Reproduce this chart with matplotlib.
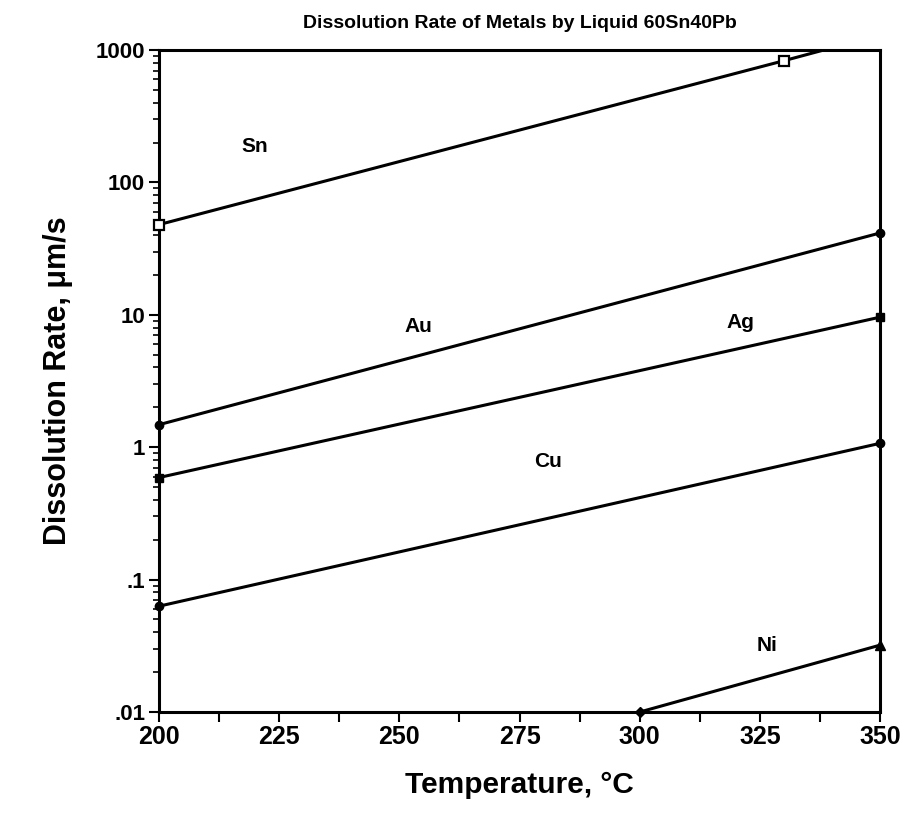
import numpy as np
import matplotlib.pyplot as plt
from matplotlib.ticker import FixedLocator, LogLocator, NullFormatter

plt.rcParams['font.family'] = ['Liberation Sans', 'DejaVu Sans']

# Data (temperature in C, rate in um/s)
sn_temp = [200, 330, 350]
sn_rate = [48, 830, 1300]
au_temp = [200, 350]
au_rate = [1.48, 41.5]
ag_temp = [200, 350]
ag_rate = [0.59, 9.6]
cu_temp = [200, 350]
cu_rate = [0.063, 1.07]
ni_temp = [300, 350]
ni_rate = [0.01, 0.032]

x_ticks = [200, 225, 250, 275, 300, 325, 350]
y_ticks = [0.01, 0.1, 1, 10, 100, 1000]
y_labels = ['.01', '.1', '1', '10', '100', '1000']

# label text, x, y
labels = [('Sn', 220, 188), ('Au', 254, 8.1), ('Ag', 321, 8.8),
          ('Cu', 281, 0.78), ('Ni', 326.5, 0.032)]

fig = plt.figure(figsize=(9.17, 8.13), dpi=100)
ax = fig.add_axes([0.1734, 0.1242, 0.7863, 0.8143])

lw = 2.2
# Sn line runs off the top, so draw line clipped and markers separately
ax.plot(sn_temp, sn_rate, color='black', lw=lw)
ax.plot(sn_temp[:2], sn_rate[:2], ls='none', marker='s', ms=7,
        mfc='white', mec='black', mew=1.6, clip_on=False, zorder=3)
ax.plot(au_temp, au_rate, color='black', lw=lw, marker='o', ms=6, clip_on=False)
ax.plot(ag_temp, ag_rate, color='black', lw=lw, marker='s', ms=6, clip_on=False)
ax.plot(cu_temp, cu_rate, color='black', lw=lw, marker='o', ms=6, clip_on=False)
ax.plot(ni_temp, ni_rate, color='black', lw=lw, clip_on=False)
ax.plot(ni_temp[0], ni_rate[0], color='black', marker='D', ms=5, clip_on=False)
ax.plot(ni_temp[1], ni_rate[1], color='black', marker='^', ms=7, clip_on=False)

for txt, xx, yy in labels:
    ax.text(xx, yy, txt, fontsize=15, fontweight='bold', ha='center', va='center')

ax.set_yscale('log')
ax.set_xlim(200, 350)
ax.set_ylim(0.01, 1000)

ax.xaxis.set_major_locator(FixedLocator(x_ticks))
ax.xaxis.set_minor_locator(FixedLocator(np.arange(200, 351, 12.5)))
ax.set_xticklabels([str(v) for v in x_ticks], fontsize=18, fontweight='bold')
ax.yaxis.set_major_locator(FixedLocator(y_ticks))
ax.set_yticklabels(y_labels, fontsize=16, fontweight='bold')
ax.yaxis.set_minor_locator(LogLocator(base=10, subs=np.arange(2, 10)))
ax.yaxis.set_minor_formatter(NullFormatter())

ax.tick_params(axis='x', which='both', direction='out', length=7, width=1.5, pad=2)
ax.tick_params(axis='y', which='major', direction='out', length=7, width=1.5, pad=3)
ax.tick_params(axis='y', which='minor', direction='out', length=4, width=1.2)

for s in ax.spines.values():
    s.set_linewidth(2.2)

ax.set_title('Dissolution Rate of Metals by Liquid 60Sn40Pb', fontsize=14,
             fontweight='bold', pad=16)
ax.set_xlabel('Temperature, °C', fontsize=21.5, fontweight='bold', labelpad=16)
ax.set_ylabel('Dissolution Rate, μm/s', fontsize=22, fontweight='bold', labelpad=16)

fig.savefig('out.png', dpi=100)
